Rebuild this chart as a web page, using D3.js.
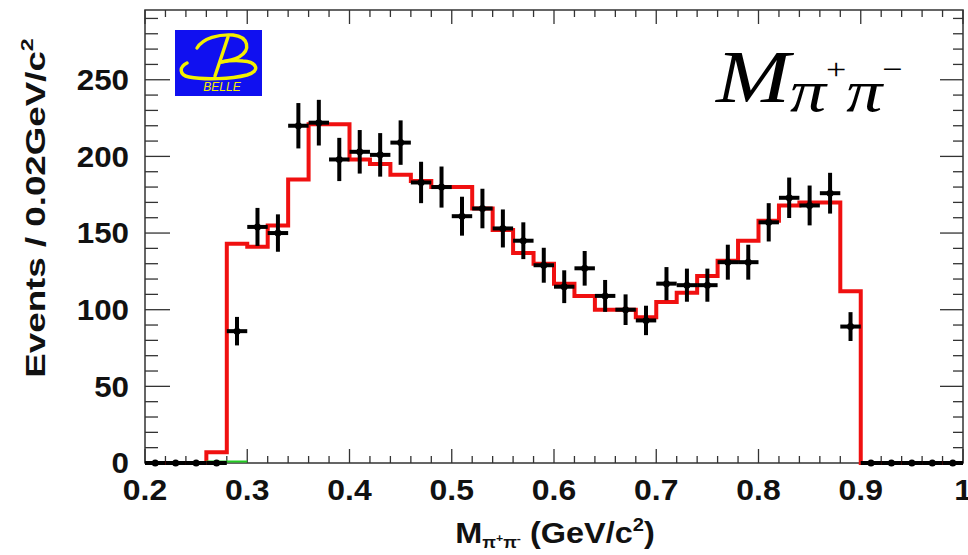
<!DOCTYPE html>
<html><head><meta charset="utf-8">
<script src="https://cdn.jsdelivr.net/npm/d3@7"></script>
<style>
html,body{margin:0;padding:0;background:#fff;}
svg{display:block;}
</style></head>
<body>
<svg id="c" width="968" height="555"></svg>
<script>
// ---- data ----
const binCenters = [0.21,0.23,0.25,0.27,0.29,0.31,0.33,0.35,0.37,0.39,
  0.41,0.43,0.45,0.47,0.49,0.51,0.53,0.55,0.57,0.59,
  0.61,0.63,0.65,0.67,0.69,0.71,0.73,0.75,0.77,0.79,
  0.81,0.83,0.85,0.87,0.89,0.91,0.93,0.95,0.97,0.99];
const binWidth = 0.02;
const dataCounts = [0,0,0,0,86,154,150,220,222,198,
  203,201,209,183,180,161,166,153,145,129,
  115,127,109,100,93,117,116,116,131,131,
  157,173,168,176,89,0,0,0,0,0];
const dataErrors = [0,0,0,0,9.3,12.4,12.2,14.8,14.9,14.1,
  14.2,14.2,14.5,13.5,13.4,12.7,12.9,12.4,12.0,11.4,
  10.7,11.3,10.4,10.0,9.6,10.8,10.8,10.8,11.4,11.4,
  12.5,13.2,13.0,13.3,9.4,0,0,0,0,0];
const fitValues = [0,0,0,7,143,141,155,185,221,221,
  198,195,188,184,180,180,166,152,137,130,
  117,109,100,100,95,105,111,122,132,145,
  158,168,170,170,112,0,0,0,0,0];
const bkgValues = [0,0,0,1,1,0,0,0,0,0,
  0,0,0,0,0,0,0,0,0,0,
  0,0,0,0,0,0,0,0,0,0,
  0,0,0,0,0,0,0,0,0,0];
const xTickLabels = [0.2,0.3,0.4,0.5,0.6,0.7,0.8,0.9,1];
const yTickLabels = [0,50,100,150,200,250];
const xDomain = [0.2, 1.0];
const yDomain = [0, 295.5];

// ---- layout ----
const L = 145, R = 963, T = 10, B = 463;
const svg = d3.select('#c');
const x = d3.scaleLinear().domain(xDomain).range([L, R]);
const y = d3.scaleLinear().domain(yDomain).range([B, T]);
const axisColor = '#333';
const tickFont = '"Liberation Sans", Arial, Helvetica, sans-serif';

// frame
svg.append('rect').attr('x', L).attr('y', T).attr('width', R - L).attr('height', B - T)
  .attr('fill', 'none').attr('stroke', axisColor).attr('stroke-width', 1.5);

// ticks
const xMajor = xTickLabels;
const xMinor = d3.range(0.2, 1.0001, 0.02).filter(v => Math.abs(v * 10 - Math.round(v * 10)) > 1e-6);
const yMinor = d3.range(0, 296, 10).filter(v => v % 50 !== 0);
const g = svg.append('g').attr('stroke', axisColor).attr('stroke-width', 1.3);
function xt(v, len) {
  g.append('line').attr('x1', x(v)).attr('x2', x(v)).attr('y1', B).attr('y2', B - len);
  g.append('line').attr('x1', x(v)).attr('x2', x(v)).attr('y1', T).attr('y2', T + len);
}
xMajor.forEach(v => xt(v, 14));
xMinor.forEach(v => xt(v, 7));
function yt(v, lenL, lenR) {
  g.append('line').attr('x1', L).attr('x2', L + lenL).attr('y1', y(v)).attr('y2', y(v));
  g.append('line').attr('x1', R).attr('x2', R - lenR).attr('y1', y(v)).attr('y2', y(v));
}
yTickLabels.forEach(v => yt(v, 25, 23));
yMinor.forEach(v => yt(v, 13, 10));

// tick labels
svg.append('g').selectAll('text').data(xTickLabels).join('text')
  .attr('transform', d => `translate(${x(d)},500) scale(1.1,1)`)
  .attr('text-anchor', 'middle')
  .attr('font-family', tickFont).attr('font-weight', 'bold').attr('font-size', 29)
  .attr('fill', '#111')
  .text(d => d3.format('')(d));
svg.append('g').selectAll('text').data(yTickLabels).join('text')
  .attr('transform', d => `translate(129,${y(d)}) scale(1.08,1)`)
  .attr('dy', '0.36em')
  .attr('text-anchor', 'end')
  .attr('font-family', tickFont).attr('font-weight', 'bold').attr('font-size', 29)
  .attr('fill', '#111')
  .text(d => d);

// axis titles
const yt1 = svg.append('text')
  .attr('transform', 'translate(45,208) rotate(-90) scale(1.36,1)')
  .attr('text-anchor', 'middle')
  .attr('font-family', tickFont).attr('font-weight', 'bold').attr('font-size', 27)
  .attr('fill', '#111');
yt1.append('tspan').text('Events / 0.02GeV/c');
yt1.append('tspan').attr('dy', -12).attr('font-size', 17).text('2');

const xt1 = svg.append('text')
  .attr('transform', 'translate(555,543) scale(1.12,1)')
  .attr('text-anchor', 'middle')
  .attr('font-family', tickFont).attr('font-weight', 'bold').attr('font-size', 29)
  .attr('fill', '#111');
xt1.append('tspan').text('M');
xt1.append('tspan').attr('dy', 5).attr('font-size', 16).text('π');
xt1.append('tspan').attr('dy', -6).attr('font-size', 11).text('+');
xt1.append('tspan').attr('dy', 6).attr('font-size', 16).text('π');
xt1.append('tspan').attr('dy', -6).attr('font-size', 11).text('-');
xt1.append('tspan').attr('dy', 1).text(' (GeV/c');
xt1.append('tspan').attr('dy', -12).attr('font-size', 18).text('2');
xt1.append('tspan').attr('dy', 12).text(')');

// fit histogram (red)
function stepPath(vals, idx) {
  const pts = [];
  idx.forEach(i => {
    pts.push([binCenters[i] - binWidth / 2, vals[i]]);
    pts.push([binCenters[i] + binWidth / 2, vals[i]]);
  });
  return d3.line().x(d => x(d[0])).y(d => y(d[1]))(pts);
}
const allIdx = binCenters.map((_, i) => i);
svg.append('path').attr('d', stepPath(fitValues, allIdx))
  .attr('fill', 'none').attr('stroke', '#f01010').attr('stroke-width', 4)
  .attr('stroke-linejoin', 'miter');

// background (green)
const bkgIdx = allIdx.filter(i => bkgValues[i] > 0);
svg.append('path').attr('d', stepPath(bkgValues, bkgIdx))
  .attr('fill', 'none').attr('stroke', '#22cc22').attr('stroke-width', 2);

// data points
const pts = svg.append('g').attr('stroke', '#000').attr('stroke-width', 4);
binCenters.forEach((c, i) => {
  const v = dataCounts[i], e = dataErrors[i];
  pts.append('line').attr('x1', x(c - binWidth / 2)).attr('x2', x(c + binWidth / 2))
    .attr('y1', y(v)).attr('y2', y(v));
  if (e > 0) pts.append('line').attr('x1', x(c)).attr('x2', x(c))
    .attr('y1', y(v - e)).attr('y2', y(v + e));
  pts.append('circle').attr('cx', x(c)).attr('cy', y(v)).attr('r', 3.5)
    .attr('fill', '#000').attr('stroke', 'none');
});

// Belle logo
const logo = svg.append('g').attr('transform', 'translate(175,30)');
logo.append('rect').attr('width', 87).attr('height', 66).attr('fill', '#1010f0');
const yel = '#f4f000';
logo.append('path')
  .attr('d', 'M22,18 C28,8 44,4 58,5 C74,7 76,20 64,27 C58,30 52,31 46,32')
  .attr('fill', 'none').attr('stroke', yel).attr('stroke-width', 3.4).attr('stroke-linecap', 'round');
logo.append('path')
  .attr('d', 'M53,7 L40,46')
  .attr('fill', 'none').attr('stroke', yel).attr('stroke-width', 3.4).attr('stroke-linecap', 'round');
logo.append('path')
  .attr('d', 'M12,33 C4,37 4,45 14,47 C30,50 56,49 72,45 C86,41 82,32 68,31 C60,30 52,31 46,32')
  .attr('fill', 'none').attr('stroke', yel).attr('stroke-width', 3.4).attr('stroke-linecap', 'round');
logo.append('text').attr('x', 47).attr('y', 61).attr('text-anchor', 'middle')
  .attr('font-family', tickFont).attr('font-style', 'italic').attr('font-size', 12)
  .attr('fill', yel).text('BELLE');

// big label
const big = svg.append('text').attr('transform', 'translate(716,102) scale(1.2,1)')
  .attr('font-family', '"Liberation Serif", "Times New Roman", serif')
  .attr('fill', '#000');
big.append('tspan').attr('font-style', 'italic').attr('font-size', 74).text('M');
big.append('tspan').attr('font-style', 'italic').attr('font-size', 60).attr('dy', 9).text('π');
big.append('tspan').attr('font-size', 30).attr('dy', -32).text('+');
big.append('tspan').attr('font-style', 'italic').attr('font-size', 60).attr('dy', 32).text('π');
big.append('tspan').attr('font-size', 30).attr('dy', -32).text('−');
</script>
</body></html>
